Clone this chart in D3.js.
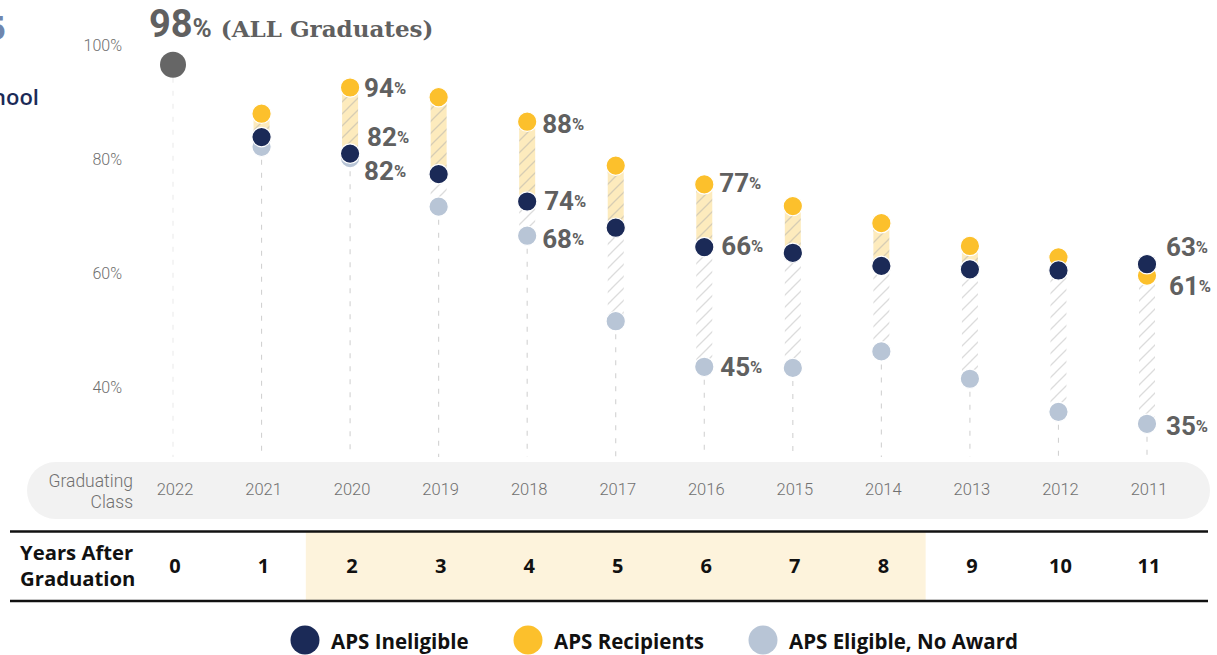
<!DOCTYPE html>
<html>
<head>
<meta charset="utf-8">
<script src="https://cdn.jsdelivr.net/npm/d3@7"></script>
<style>
  html, body { margin: 0; padding: 0; background: #ffffff; }
  svg { display: block; }
</style>
</head>
<body>
<svg id="chart" width="1217" height="655"></svg>
<script>
// Graduating classes, newest first, and years elapsed since graduation
const classes = ["2022", "2021", "2020", "2019", "2018", "2017", "2016", "2015", "2014", "2013", "2012", "2011"];
const yearsAfter = [0, 1, 2, 3, 4, 5, 6, 7, 8, 9, 10, 11];

// Share of each class still in Alaska (%)
const allGraduates = 98;               // class of 2022, all graduates
const ineligible   = [null, 85.3, 82.4, 78.8, 74, 69.4, 66, 65, 62.7, 62.1, 61.9, 63];
const recipients   = [null, 89.4, 94, 92.3, 88, 80.3, 77, 73.2, 70.2, 66.2, 64.2, 61];
const eligibleNoAward = [null, 83.6, 81.6, 73.1, 68, 53, 45, 44.8, 47.7, 42.9, 37.1, 35];

const yTicks = [40, 60, 80, 100];
const labeledClasses = ["2020", "2018", "2016", "2011"];
const highlightedYears = [2, 8];
const seriesNames = ["APS Ineligible", "APS Recipients", "APS Eligible, No Award"];

const colors = {
  ineligible: "#1b2a57",
  recipients: "#fcc02c",
  eligible: "#b8c5d6",
  all: "#666666",
  label: "#606060",
  axis: "#6e6e6e"
};

const svg = d3.select("#chart");

const x = d3.scalePoint().domain(classes).range([173, 1147]);
const y = d3.scaleLinear().domain([30, 100]).range([452.3, 53.3]);

const fmt = d3.format(".0f");

// ---- hatch patterns -------------------------------------------------------
const defs = svg.append("defs");
function hatch(id, bg, stroke) {
  const s = 12;
  const p = defs.append("pattern")
    .attr("id", id)
    .attr("patternUnits", "userSpaceOnUse")
    .attr("width", s).attr("height", s);
  p.append("rect").attr("width", s).attr("height", s).attr("fill", bg);
  p.append("path")
    .attr("d", `M-3,${s + 3} L${s + 3},-3 M-3,3 L3,-3 M${s - 3},${s + 3} L${s + 3},${s - 3}`)
    .attr("stroke", stroke).attr("stroke-width", 1.3).attr("fill", "none");
}
hatch("hatchGold", "#fdebbd", "#d7cdb4");
hatch("hatchGray", "#ffffff", "#dcdcdc");

// ---- heading text running in from the left edge ----------------------------
svg.append("text")
  .attr("x", 6).attr("y", 40)
  .attr("text-anchor", "end")
  .attr("font-family", "'Open Sans', 'Noto Sans', sans-serif")
  .attr("font-weight", 700).attr("font-size", 34)
  .attr("fill", "#6f86ae")
  .text("5");
svg.append("text")
  .attr("x", 39).attr("y", 105)
  .attr("text-anchor", "end")
  .attr("font-family", "'Open Sans', 'Noto Sans', sans-serif")
  .attr("font-weight", 600).attr("font-size", 22)
  .attr("fill", colors.ineligible)
  .text("School");

// ---- y-axis labels ---------------------------------------------------------
svg.append("g").selectAll("text")
  .data(yTicks)
  .join("text")
  .attr("x", 122)
  .attr("y", d => y(d) - 8)
  .attr("text-anchor", "end")
  .attr("dominant-baseline", "central")
  .attr("font-family", "Roboto, sans-serif")
  .attr("font-weight", 300)
  .attr("font-size", 16)
  .attr("fill", colors.axis)
  .text(d => d + "%");

// ---- per-class records -----------------------------------------------------
const rows = classes.map((c, i) => ({
  cls: c,
  years: yearsAfter[i],
  inel: ineligible[i],
  recip: recipients[i],
  elig: eligibleNoAward[i]
}));
const groups = rows.filter(d => d.inel != null);

// dashed drop lines
const yBottom = 457;
svg.append("g").selectAll("line")
  .data(rows)
  .join("line")
  .attr("x1", d => x(d.cls)).attr("x2", d => x(d.cls))
  .attr("y1", d => d.elig != null ? y(d.elig) : y(allGraduates) + 13)
  .attr("y2", yBottom)
  .attr("stroke", d => d.elig != null ? "#d2d2d2" : "#ececec")
  .attr("stroke-width", 1.1)
  .attr("stroke-dasharray", "5,8");

// gold band: recipients above ineligible
const bw = 16;
svg.append("g").selectAll("rect")
  .data(groups.filter(d => d.recip > d.inel))
  .join("rect")
  .attr("x", d => x(d.cls) - bw / 2)
  .attr("width", bw)
  .attr("y", d => y(d.recip))
  .attr("height", d => y(d.inel) - y(d.recip))
  .attr("fill", "url(#hatchGold)");

// gray band: lower of the two down to eligible-no-award
svg.append("g").selectAll("rect")
  .data(groups)
  .join("rect")
  .attr("x", d => x(d.cls) - bw / 2)
  .attr("width", bw)
  .attr("y", d => y(Math.min(d.recip, d.inel)))
  .attr("height", d => Math.max(0, y(d.elig) - y(Math.min(d.recip, d.inel))))
  .attr("fill", "url(#hatchGray)");

// ---- dots ------------------------------------------------------------------
const r = 9.7;
const dotLayer = svg.append("g");
dotLayer.append("circle")
  .attr("cx", x(classes[0])).attr("cy", y(allGraduates))
  .attr("r", 13).attr("fill", colors.all);

function dots(key, color) {
  dotLayer.append("g").selectAll("circle")
    .data(groups)
    .join("circle")
    .attr("cx", d => x(d.cls))
    .attr("cy", d => y(d[key]))
    .attr("r", r)
    .attr("fill", color)
    .attr("stroke", "#ffffff")
    .attr("stroke-width", 1.2);
}
dots("elig", colors.eligible);
dots("recip", colors.recipients);
dots("inel", colors.ineligible);

// ---- value labels ----------------------------------------------------------
// vertical nudges (px) so neighbouring labels do not collide
const labelNudge = {
  "2020": { recip: 0, inel: -17, elig: 13 },
  "2018": { recip: 2, inel: -1, elig: 3 },
  "2016": { recip: -1, inel: -1, elig: 0 },
  "2011": { recip: 10, inel: -17, elig: 2 }
};
const labelDx = {
  "2020": { recip: 14, inel: 17, elig: 14 },
  "2018": { recip: 15, inel: 17, elig: 15 },
  "2016": { recip: 15, inel: 17, elig: 16 },
  "2011": { recip: 22, inel: 19, elig: 19 }
};

const labelData = [];
groups.filter(d => labeledClasses.includes(d.cls)).forEach(d => {
  ["recip", "inel", "elig"].forEach(k => {
    labelData.push({ cls: d.cls, key: k, v: d[k] });
  });
});
const lbl = svg.append("g").selectAll("text")
  .data(labelData)
  .join("text")
  .attr("x", d => x(d.cls) + labelDx[d.cls][d.key])
  .attr("y", d => y(d.v) + labelNudge[d.cls][d.key])
  .attr("dominant-baseline", "central")
  .attr("font-family", "Roboto, sans-serif")
  .attr("font-weight", 700)
  .attr("fill", colors.label);
lbl.append("tspan").attr("font-size", 26).text(d => fmt(d.v));
lbl.append("tspan").attr("font-size", 16.5).text("%");

// headline for all graduates
const head = svg.append("text")
  .attr("x", 149).attr("y", 37)
  .attr("fill", colors.label);
head.append("tspan")
  .attr("font-family", "Roboto, sans-serif").attr("font-weight", 700)
  .attr("font-size", 38).text(fmt(allGraduates));
head.append("tspan")
  .attr("font-family", "Roboto, sans-serif").attr("font-weight", 700)
  .attr("font-size", 26).text("%");
head.append("tspan")
  .attr("dx", 9)
  .attr("font-family", "'DejaVu Serif', serif").attr("font-weight", 700)
  .attr("font-size", 23).text("(ALL Graduates)");

// ---- graduating class strip -----------------------------------------------
svg.append("rect")
  .attr("x", 27).attr("y", 462)
  .attr("width", 1183).attr("height", 57)
  .attr("rx", 28.5)
  .attr("fill", "#f2f2f2");

const stripFont = "Roboto, sans-serif";
svg.append("text")
  .attr("x", 133).attr("y", 481)
  .attr("text-anchor", "end").attr("dominant-baseline", "central")
  .attr("font-family", stripFont).attr("font-weight", 300)
  .attr("font-size", 17.5).attr("fill", "#707070")
  .text("Graduating");
svg.append("text")
  .attr("x", 133).attr("y", 502)
  .attr("text-anchor", "end").attr("dominant-baseline", "central")
  .attr("font-family", stripFont).attr("font-weight", 300)
  .attr("font-size", 17.5).attr("fill", "#707070")
  .text("Class");

svg.append("g").selectAll("text")
  .data(classes)
  .join("text")
  .attr("x", d => x(d) + 2)
  .attr("y", 489)
  .attr("text-anchor", "middle").attr("dominant-baseline", "central")
  .attr("font-family", stripFont).attr("font-weight", 300)
  .attr("font-size", 16.5).attr("fill", "#707070")
  .text(d => d);

// ---- years-after-graduation table -----------------------------------------
const tableFont = "'Open Sans', 'Noto Sans', sans-serif";
const hx0 = (x(classes[highlightedYears[0] - 1]) + x(classes[highlightedYears[0]])) / 2;
const hx1 = (x(classes[highlightedYears[1]]) + x(classes[highlightedYears[1] + 1])) / 2;
svg.append("rect")
  .attr("x", hx0).attr("y", 532)
  .attr("width", hx1 - hx0).attr("height", 69)
  .attr("fill", "#fdf3dc");

[531.5, 601].forEach(yy => {
  svg.append("line")
    .attr("x1", 10).attr("x2", 1208)
    .attr("y1", yy).attr("y2", yy)
    .attr("stroke", "#111111").attr("stroke-width", 2.5);
});

svg.append("text")
  .attr("x", 20).attr("y", 552)
  .attr("dominant-baseline", "central")
  .attr("font-family", tableFont).attr("font-weight", 700)
  .attr("font-size", 20.3).attr("fill", "#111111")
  .text("Years After");
svg.append("text")
  .attr("x", 20).attr("y", 578)
  .attr("dominant-baseline", "central")
  .attr("font-family", tableFont).attr("font-weight", 700)
  .attr("font-size", 20.3).attr("fill", "#111111")
  .text("Graduation");

svg.append("g").selectAll("text")
  .data(rows)
  .join("text")
  .attr("x", d => x(d.cls) + 2)
  .attr("y", 565)
  .attr("text-anchor", "middle").attr("dominant-baseline", "central")
  .attr("font-family", tableFont).attr("font-weight", 700)
  .attr("font-size", 20).attr("fill", "#111111")
  .text(d => d.years);

// ---- legend ----------------------------------------------------------------
const legendColors = [colors.ineligible, colors.recipients, colors.eligible];
const legendX = [305, 528, 763];
const lg = svg.append("g").selectAll("g")
  .data(seriesNames)
  .join("g")
  .attr("transform", (d, i) => `translate(${legendX[i]},640)`);
lg.append("circle").attr("r", 14.5).attr("fill", (d, i) => legendColors[i]);
lg.append("text")
  .attr("x", 26).attr("y", 1)
  .attr("dominant-baseline", "central")
  .attr("font-family", tableFont).attr("font-weight", 700)
  .attr("font-size", 20.5).attr("fill", "#111111")
  .text(d => d);
</script>
</body>
</html>
